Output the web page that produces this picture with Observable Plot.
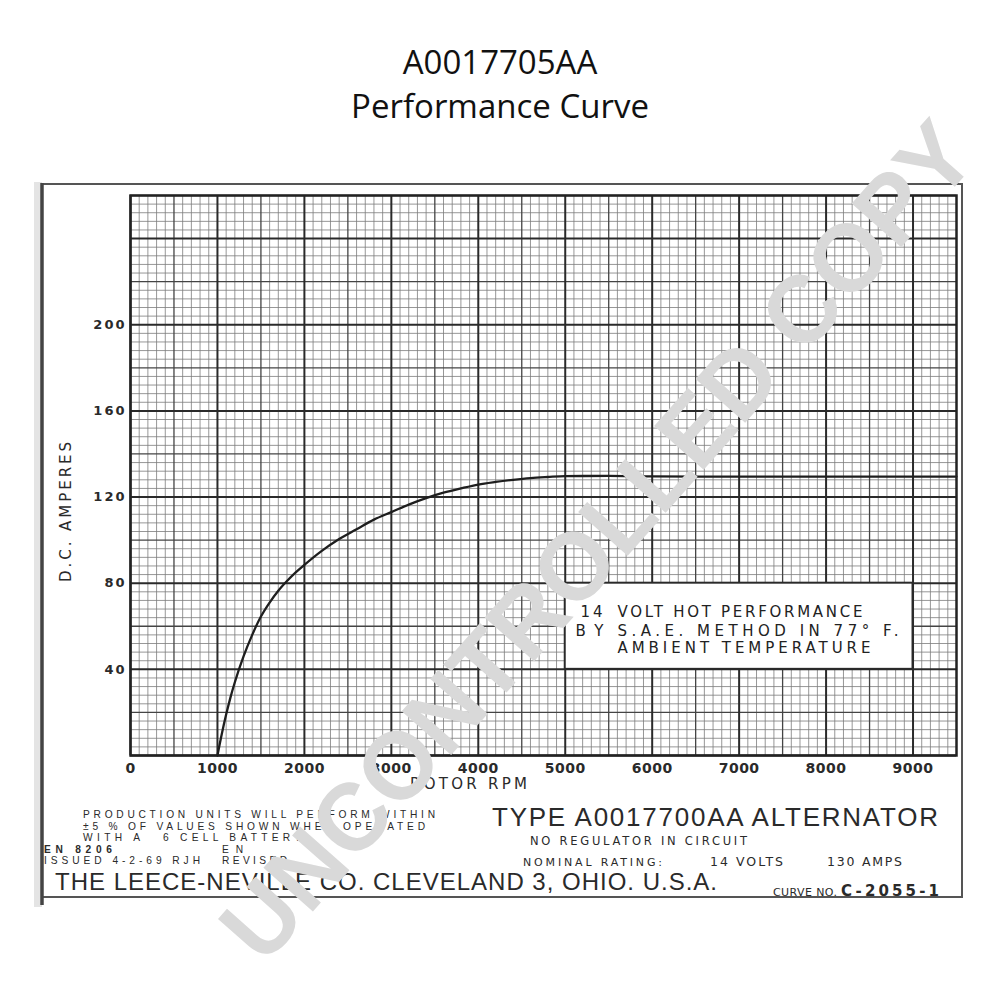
<!DOCTYPE html>
<html><head><meta charset="utf-8">
<script src="https://cdn.jsdelivr.net/npm/d3@7"></script>
<script src="https://cdn.jsdelivr.net/npm/@observablehq/plot@0.6"></script>
<style>
html,body{margin:0;padding:0;background:#fff;overflow:hidden;}
#wrap{position:relative;width:1000px;height:1000px;overflow:hidden;background:#fff;}
#chart{position:absolute;left:0;top:0;}
#title{position:absolute;left:0;top:40px;width:1000px;text-align:center;font-family:"Open Sans",sans-serif;font-size:33px;line-height:44px;color:#111;}
#overlay{position:absolute;left:0;top:0;pointer-events:none;}
</style></head><body>
<div id="wrap">
  <div id="chart"></div>
  <div id="title"><div>A0017705AA</div><div>Performance Curve</div></div>
  <svg id="overlay" width="1000" height="1000"></svg>
</div>
<script>
// ---- data ----
const rpm  = [1000,1050,1100,1150,1200,1300,1400,1500,1600,1700,1800,1900,2000,2200,2400,2600,2800,3000,3200,3400,3600,3800,4000,4200,4400,4600,4800,5000,5500,6000,7000,8000,9000,9500];
const amps = [0,10,19,27,34,46,56,64.5,71,76.5,81,85,88.5,95,100.5,105,109.5,113,116.5,119.5,122,124,125.8,127,128,128.8,129.3,129.7,129.8,129.6,129.5,129.5,129.5,129.5];
const xTicks = [0,1000,2000,3000,4000,5000,6000,7000,8000,9000];
const yTicks = [40,80,120,160,200];
const xDomain = [0,9500];
const yDomain = [0,260];
const noteBox = [{x1:5000,x2:9000,y1:40,y2:80}];
const noteLines = [
  {x:5175, y:66.4, text:"14", len:22},
  {x:5601, y:66.4, text:"VOLT HOT PERFORMANCE", len:245},
  {x:5118, y:57.6, text:"BY", len:28},
  {x:5601, y:57.6, text:"S.A.E. METHOD IN 77° F.", len:281},
  {x:5601, y:49.7, text:"AMBIENT TEMPERATURE", len:253}
];
const xAxisTitle = "ROTOR RPM";
const yAxisTitle = "D.C. AMPERES";

const curve = rpm.map((r,i)=>({rpm:r, amps:amps[i]}));

// graph-paper grid values
const minorX = d3.range(0, 9501, 100).filter(v => v % 500 !== 0);
const midX = d3.range(500, 9500, 1000);
const majorX = d3.range(0, 9501, 1000);
const minorY = d3.range(0, 261, 4).filter(v => v % 20 !== 0);
const midY = d3.range(20, 261, 40);
const majorY = d3.range(0, 261, 40);

const font = "DejaVu Sans, sans-serif";

const plot = Plot.plot({
  width: 1000, height: 1000,
  marginLeft: 130, marginRight: 44, marginTop: 195, marginBottom: 245,
  style: {background: "transparent", maxWidth: "none", fontFamily: font},
  x: {domain: xDomain},
  y: {domain: yDomain},
  marks: [
    Plot.ruleX(minorX, {stroke: "#7c7c7c", strokeWidth: 0.8}),
    Plot.ruleY(minorY, {stroke: "#7c7c7c", strokeWidth: 0.8}),
    Plot.ruleX(midX, {stroke: "#444", strokeWidth: 1.3}),
    Plot.ruleY(midY, {stroke: "#444", strokeWidth: 1.3}),
    Plot.ruleX(majorX, {stroke: "#2a2a2a", strokeWidth: 2}),
    Plot.ruleY(majorY, {stroke: "#2a2a2a", strokeWidth: 2}),
    Plot.rect(noteBox, {x1: "x1", x2: "x2", y1: "y1", y2: "y2", fill: "#fff", stroke: "#2a2a2a", strokeWidth: 2}),
    Plot.text(noteLines, {x: "x", y: "y", text: "text", textAnchor: "start", lineAnchor: "middle", fontSize: 15, fill: "#222", fontFamily: font}),
    Plot.line(curve, {x: "rpm", y: "amps", stroke: "#1e1e1e", strokeWidth: 2.3, curve: "monotone-x"}),
    Plot.frame({stroke: "#222", strokeWidth: 2.5}),
    Plot.axisX(xTicks, {tickSize: 0, tickPadding: 8, fontSize: 14, fontWeight: "bold", fill: "#2a2a2a", label: null, tickFormat: d => String(d)}),
    Plot.axisY(yTicks, {tickSize: 0, tickPadding: 4, fontSize: 13, fontWeight: "bold", fill: "#2a2a2a", label: null, tickFormat: d => String(d)})
  ]
});
document.getElementById("chart").appendChild(plot);

// fit the note lines to the widths of the original lettering
const noteLen = new Map(noteLines.map(d => [d.text, d.len]));
d3.select(plot).selectAll("text").each(function(){
  const t = this.textContent;
  if (noteLen.has(t)) d3.select(this).attr("textLength", noteLen.get(t)).attr("lengthAdjust", "spacing");
});
d3.select(plot).selectAll("g[aria-label='y-axis tick label'] text").style("letter-spacing", "2px");
d3.select(plot).selectAll("g[aria-label='x-axis tick label'] text").style("letter-spacing", "0.5px");

// ---- sheet decorations, captions and watermark ----
const ov = d3.select("#overlay");
ov.append("rect").attr("x", 34).attr("y", 182).attr("width", 8).attr("height", 725).attr("fill", "#e4e4e4");
ov.append("rect").attr("x", 42).attr("y", 184).attr("width", 920).attr("height", 713)
  .attr("fill", "none").attr("stroke", "#555").attr("stroke-width", 2);
ov.append("line").attr("x1", 42).attr("x2", 42).attr("y1", 183).attr("y2", 905).attr("stroke", "#444").attr("stroke-width", 3.5);

const small = "Liberation Sans, Arial, sans-serif";
const captions = [
  {t: yAxisTitle, x: 66, y: 512, s: 15, len: 140, rot: true},
  {t: xAxisTitle, x: 410, y: 789, s: 15, len: 117},
  {t: "PRODUCTION UNITS WILL PERFORM WITHIN", x: 83, y: 818, s: 10.2, len: 352, f: small},
  {t: "±5 % OF VALUES SHOWN WHEN OPERATED", x: 83, y: 829.5, s: 10.2, len: 342, f: small},
  {t: "WITH A", x: 83, y: 841, s: 10.2, len: 57, f: small},
  {t: "6 CELL BATTERY", x: 163, y: 841, s: 10.2, len: 138, f: small},
  {t: "EN 8206", x: 44, y: 852.5, s: 10.2, len: 68, w: "bold", f: small},
  {t: "ISSUED 4-2-69 RJH", x: 44, y: 864, s: 10.2, len: 156, f: small},
  {t: "EN", x: 222, y: 852.5, s: 10.2, len: 21, f: small},
  {t: "REVISED", x: 222, y: 864, s: 10.2, len: 65, f: small},
  {t: "THE LEECE-NEVILLE CO. CLEVELAND 3, OHIO. U.S.A.", x: 55, y: 890, s: 24, len: 662, f: small},
  {t: "TYPE A0017700AA ALTERNATOR", x: 492, y: 826, s: 26, len: 446, f: small},
  {t: "NO REGULATOR IN CIRCUIT", x: 530, y: 845, s: 11.5, len: 217},
  {t: "NOMINAL RATING:", x: 523, y: 866, s: 11, len: 139},
  {t: "14 VOLTS", x: 710, y: 866, s: 12.5, len: 73},
  {t: "130 AMPS", x: 827, y: 866, s: 12.5, len: 75},
  {t: "CURVE NO.", x: 773, y: 896, s: 11, len: 64},
  {t: "C-2055-1", x: 841, y: 896, s: 15, len: 98, w: "bold"}
];
captions.forEach(c => {
  const el = ov.append("text").text(c.t)
    .attr("font-family", c.f || font).attr("font-size", c.s).attr("fill", "#2a2a2a")
    .attr("font-weight", c.w || "normal")
    .attr("textLength", c.len).attr("lengthAdjust", "spacing");
  if (c.rot) el.attr("transform", `translate(${c.x},${c.y}) rotate(-90)`).attr("text-anchor", "middle").attr("dy", "0.36em");
  else el.attr("x", c.x).attr("y", c.y);
});

// watermark, split in its two words along one diagonal line
const marks = [
  {t: "UNCONTROLLED", cx: 499, cy: 649, len: 788},
  {t: "COPY", cx: 866, cy: 235, len: 266}
];
marks.forEach(m => {
  ov.append("text").text(m.t)
    .attr("transform", `translate(${m.cx},${m.cy}) rotate(-48.5)`)
    .attr("text-anchor", "middle").attr("dy", "0.36em")
    .attr("font-family", "Liberation Sans, Arial, sans-serif").attr("font-weight", "bold")
    .attr("font-size", 96).attr("fill", "#d9d9d9")
    .attr("textLength", m.len).attr("lengthAdjust", "spacingAndGlyphs");
});
</script>
</body></html>
